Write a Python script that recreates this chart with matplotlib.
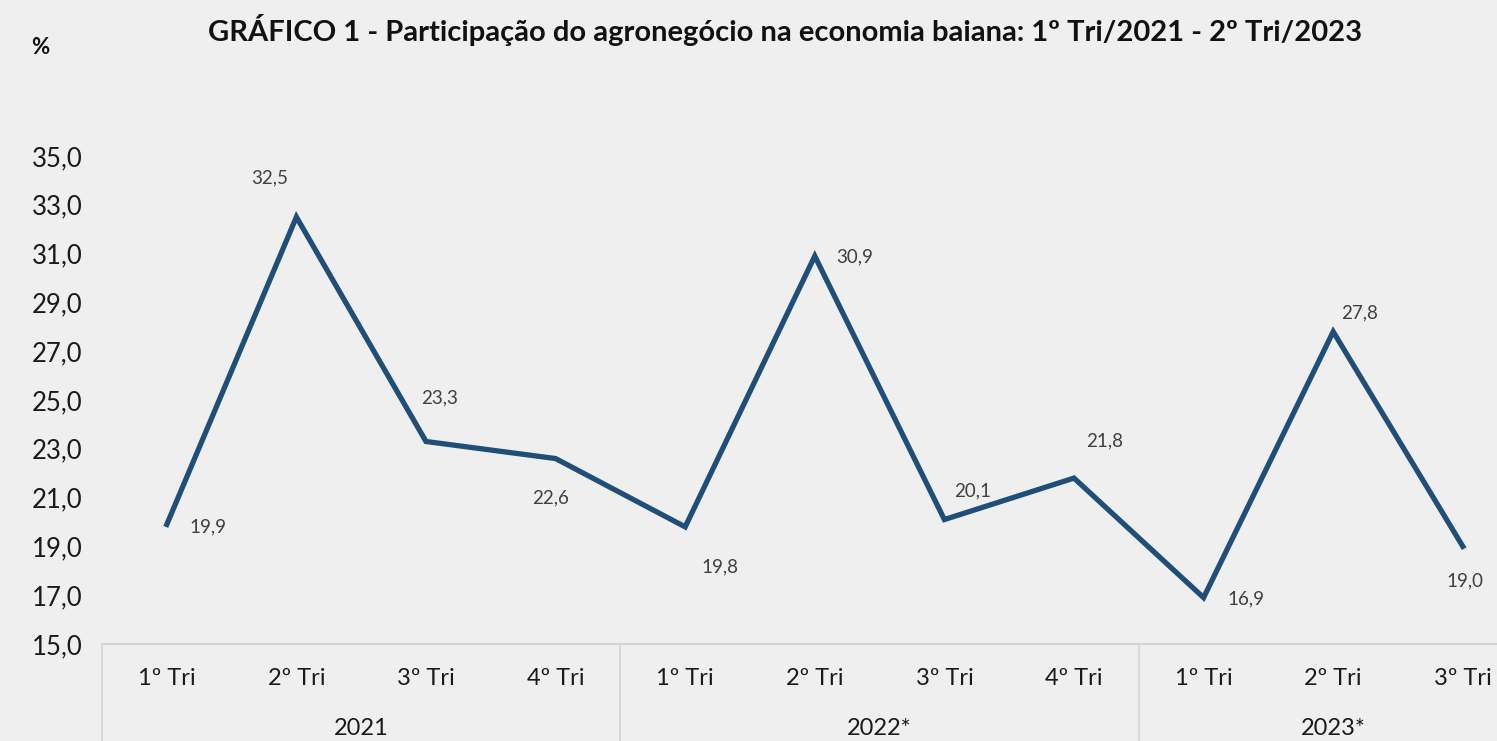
import matplotlib.pyplot as plt
import matplotlib.transforms as mtransforms

plt.rcParams['font.family'] = ['Lato', 'DejaVu Sans']

quarters = ["1º Tri", "2º Tri", "3º Tri", "4º Tri",
            "1º Tri", "2º Tri", "3º Tri", "4º Tri",
            "1º Tri", "2º Tri", "3º Tri"]
years = ["2021", "2022*", "2023*"]
year_sizes = [4, 4, 3]
values = [19.9, 32.5, 23.3, 22.6, 19.8, 30.9, 20.1, 21.8, 16.9, 27.8, 19.0]
labels = [f"{v:.1f}".replace(".", ",") for v in values]

# label offsets in pixels (dx, dy) from each point
offsets = [(41, -2), (-27, 39), (14, 44), (-5, -39), (35, -40), (40, -1),
           (28, 29), (31, 37), (42, -1), (26, 19), (2, -34)]

bg = "#efefef"
line_color = "#1f4e79"
grid_color = "#d4d4d4"

fig = plt.figure(figsize=(14.97, 7.41), dpi=100, facecolor=bg)
ax = fig.add_axes([102 / 1497, 97 / 741, 1 - 102 / 1497, (644 - 156) / 741])
ax.set_facecolor(bg)

x = list(range(len(values)))
ax.plot(x, values, color=line_color, linewidth=3.8, solid_joinstyle="miter")

for xi, v, lab, (dx, dy) in zip(x, values, labels, offsets):
    ax.annotate(lab, (xi, v), xytext=(dx, dy), textcoords="offset pixels",
                ha="center", va="center", fontsize=13.5, color="#404040")

ax.set_ylim(15, 35)
ax.set_yticks([15, 17, 19, 21, 23, 25, 27, 29, 31, 33, 35])
ax.set_yticklabels([f"{t:.1f}".replace(".", ",") for t in ax.get_yticks()],
                   fontsize=18.5, color="#1a1a1a")
ax.set_xlim(-0.5, (1497 - 102) / 129.6 - 0.5)
ax.set_xticks(x)
ax.set_xticklabels(quarters, fontsize=17, color="#1a1a1a")
ax.tick_params(axis="y", length=0, pad=14)
ax.tick_params(axis="x", length=0, pad=17.5)

for s in ["top", "right", "left"]:
    ax.spines[s].set_visible(False)
ax.spines["bottom"].set_color(grid_color)
ax.spines["bottom"].set_linewidth(1.5)

trans = mtransforms.blended_transform_factory(ax.transData, ax.transAxes)
start = 0
for yr, n in zip(years, year_sizes):
    ax.plot([start - 0.5, start - 0.5], [0, -0.3], color=grid_color,
            linewidth=1.2, transform=trans, clip_on=False)
    ax.text(start + (n - 1) / 2, -0.173, yr, transform=trans, ha="center",
            va="center", fontsize=17, color="#1a1a1a")
    start += n

fig.text(785 / 1497, 1 - 30 / 741,
         "GRÁFICO 1 - Participação do agronegócio na economia baiana: 1º Tri/2021 - 2º Tri/2023",
         ha="center", va="center", fontsize=21, fontweight="bold", color="#111111")
fig.text(40 / 1497, 1 - 47 / 741, "%", ha="center", va="center",
         fontsize=16, fontweight="bold", color="#111111")

fig.savefig("out.png", dpi=100, facecolor=bg)
